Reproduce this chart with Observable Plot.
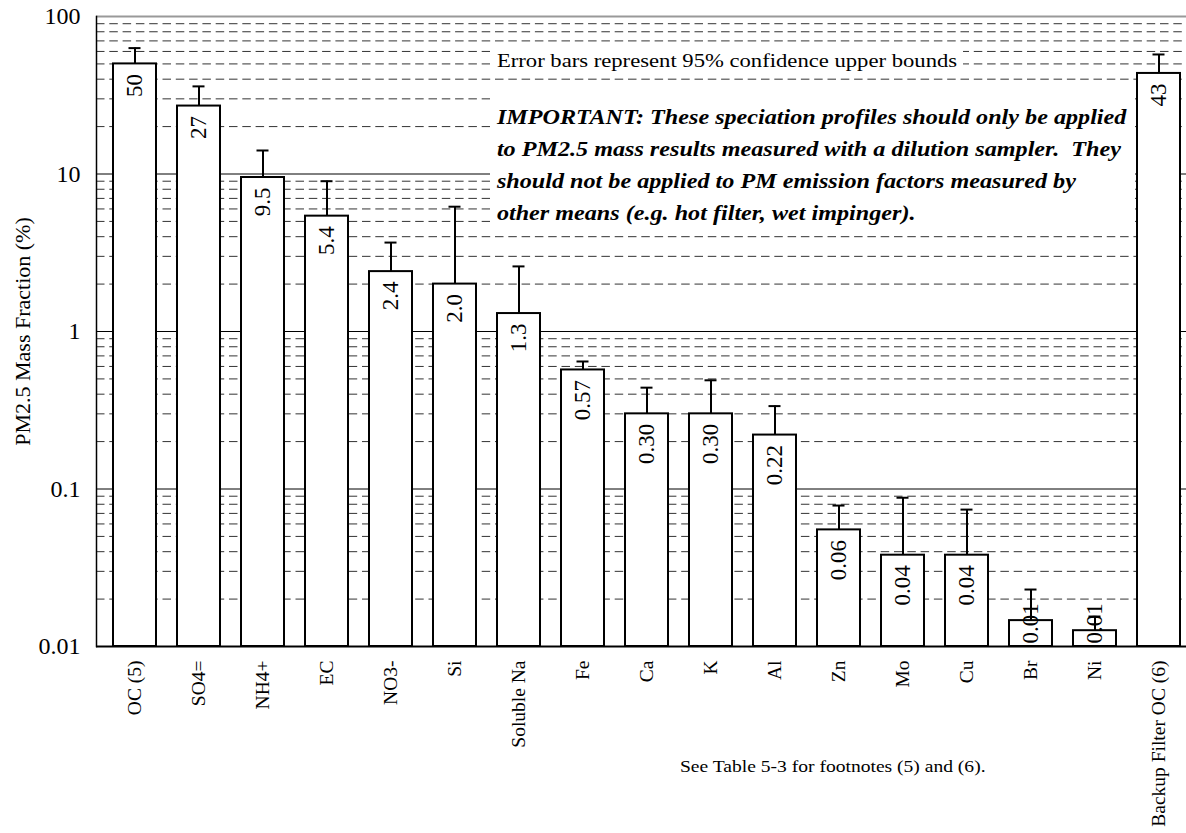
<!DOCTYPE html>
<html>
<head>
<meta charset="utf-8">
<script src="https://cdn.jsdelivr.net/npm/d3@7"></script>
<script src="https://cdn.jsdelivr.net/npm/@observablehq/plot@0.6"></script>
<style>
html, body { margin: 0; padding: 0; background: #fff; overflow: hidden; }
#wrap { position: relative; width: 1186px; height: 833px; }
.note { position: absolute; background: #fff; font-family: "Liberation Serif", "Times New Roman", serif; color: #000; white-space: pre; }
.inner { transform: scaleX(1.15); transform-origin: 0 0; }
</style>
</head>
<body>
<div id="wrap"></div>
<script>
// ---- data ----
const categories = ["OC (5)", "SO4=", "NH4+", "EC", "NO3-", "Si", "Soluble Na", "Fe", "Ca", "K", "Al", "Zn", "Mo", "Cu", "Br", "Ni", "Backup Filter OC (6)"];
const values = [50, 27, 9.5, 5.4, 2.4, 2.0, 1.3, 0.57, 0.30, 0.30, 0.22, 0.055, 0.038, 0.038, 0.0146, 0.0126, 43.5];
const uppers = [63, 36, 14.1, 9.0, 3.67, 6.2, 2.59, 0.645, 0.44, 0.49, 0.336, 0.0785, 0.088, 0.074, 0.023, 0.0155, 57.4];
const valueLabels = ["50", "27", "9.5", "5.4", "2.4", "2.0", "1.3", "0.57", "0.30", "0.30", "0.22", "0.06", "0.04", "0.04", "0.01", "0.01", "43"];
const yTicks = [0.01, 0.1, 1, 10, 100];
const yTickLabels = ["0.01", "0.1", "1", "10", "100"];
const gridMajor = [0.1, 1, 10];
const gridMinor = [0.02, 0.03, 0.04, 0.05, 0.06, 0.07, 0.08, 0.09,
                   0.2, 0.3, 0.4, 0.5, 0.6, 0.7, 0.8, 0.9,
                   2, 3, 4, 5, 6, 7, 8, 9,
                   20, 30, 40, 50, 60, 70, 80, 90];
const yLabel = "PM2.5 Mass Fraction (%)";
const noteErr = "Error bars represent 95% confidence upper bounds";
const noteImportant = ["IMPORTANT: These speciation profiles should only be applied",
                       "to PM2.5 mass results measured with a dilution sampler.  They",
                       "should not be applied to PM emission factors measured by",
                       "other means (e.g. hot filter, wet impinger)."];
const footnote = "See Table 5-3 for footnotes (5) and (6).";

const data = categories.map((c, i) => ({name: c, value: values[i], upper: uppers[i], label: valueLabels[i]}));
const baseline = yTicks[0];
const serif = '"Liberation Serif", "Times New Roman", serif';

const chart = Plot.plot({
  width: 1186,
  height: 833,
  marginLeft: 96,
  marginRight: 0,
  marginTop: 16,
  marginBottom: 187,
  style: {fontFamily: serif, background: "white", color: "black"},
  x: {domain: categories, paddingInner: 0.334, paddingOuter: 0.1084, align: 0.714},
  y: {type: "log", domain: [0.01, 100]},
  marks: [
    Plot.ruleY(gridMinor, {stroke: "#333", strokeWidth: 1, strokeDasharray: "8.5,4.8"}),
    Plot.ruleY(gridMajor, {stroke: "#000", strokeWidth: 1}),
    Plot.ruleY([100], {stroke: "#999", strokeWidth: 2}),
    Plot.barY(data, {x: "name", y1: () => baseline, y2: "value", fill: "white", stroke: "black", strokeWidth: 2}),
    Plot.ruleX(data, {x: "name", y1: "value", y2: "upper", stroke: "black", strokeWidth: 2}),
    Plot.tickY(data, {x: "name", y: "upper", stroke: "black", strokeWidth: 2, insetLeft: 15.5, insetRight: 15.5}),
    Plot.text(data.filter(d => d.value >= 0.02), {x: "name", y: "value", text: "label", rotate: -90, textAnchor: "end", dy: 10, fontSize: 23, fill: "black"}),
    Plot.text(data.filter(d => d.value < 0.02), {x: "name", y: () => baseline, text: "label", rotate: -90, textAnchor: "start", dy: -3, fontSize: 23, fill: "black"}),
    Plot.ruleY([0.01], {stroke: "black", strokeWidth: 2}),
    Plot.frame({anchor: "left", stroke: "black", strokeWidth: 1.5}),
    Plot.axisX({tickSize: 0, tickPadding: 14, tickRotate: -90, fontSize: 19.5, label: null}),
    Plot.axisY({ticks: yTicks, tickFormat: d => yTickLabels[yTicks.indexOf(d)], tickSize: 0, tickPadding: 16, fontSize: 24, label: null}),
    Plot.text([yLabel], {frameAnchor: "left", rotate: -90, textAnchor: "middle", dx: -74, fontSize: 22, fill: "black"})
  ]
});

const wrap = document.getElementById("wrap");
wrap.appendChild(chart);

function addNote(lines, box, font) {
  const d = document.createElement("div");
  d.className = "note";
  Object.assign(d.style, {left: box.left + "px", top: box.top + "px", width: box.width + "px", height: box.height + "px"});
  const inner = document.createElement("div");
  inner.className = "inner";
  Object.assign(inner.style, {paddingLeft: box.padLeft + "px", paddingTop: box.padTop + "px", fontSize: font.size + "px",
    lineHeight: font.lineHeight + "px", fontWeight: font.weight || "normal", fontStyle: font.style || "normal"});
  lines.forEach((t, i) => {
    if (i) inner.appendChild(document.createElement("br"));
    inner.appendChild(document.createTextNode(t));
  });
  d.appendChild(inner);
  wrap.appendChild(d);
}

addNote([noteErr], {left: 490, top: 46, width: 473, height: 28, padLeft: 6, padTop: 0}, {size: 19.7, lineHeight: 28});
addNote(noteImportant, {left: 490, top: 86, width: 645, height: 142, padLeft: 6, padTop: 15}, {size: 21, lineHeight: 32, weight: "bold", style: "italic"});
const fn = document.createElement("div");
fn.className = "note";
Object.assign(fn.style, {left: "680px", top: "756px", background: "transparent"});
fn.innerHTML = '<div class="inner" style="font-size:17px;line-height:22px"></div>';
fn.firstChild.textContent = footnote;
wrap.appendChild(fn);
</script>
</body>
</html>
